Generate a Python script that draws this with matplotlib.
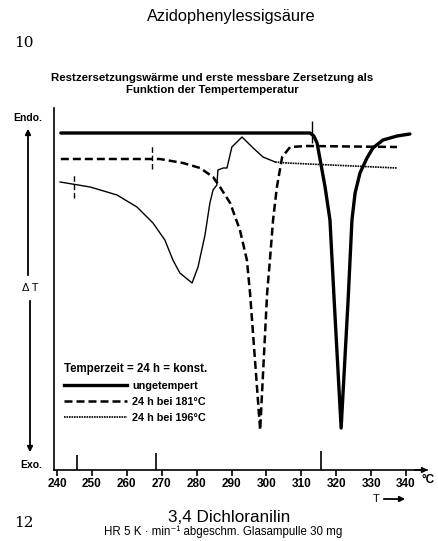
import matplotlib.pyplot as plt
from matplotlib.lines import Line2D

plt.rcParams['font.family'] = ['Liberation Sans', 'DejaVu Sans']

# temperatures in degC, signal in arbitrary units (height above the T axis)
t_unget = [241.1, 312.5, 313.6, 314.5, 315.4, 316.8, 318.2, 319.4, 321.4, 323.4,
           324.5, 325.4, 326.8, 328.8, 330.5, 333.4, 337.4, 341.1]
dt_unget = [337, 337, 334, 327, 310, 283, 250, 170, 42, 170,
            250, 277, 297, 312, 322, 330, 334, 336]

t_181 = [241.1, 267.2, 269.5, 276.1, 281.0, 284.7, 286.7, 289.6, 292.4, 294.4,
         295.3, 298.2, 300.2, 301.0, 301.9, 303.0, 304.5, 306.8, 311.6, 337.4]
dt_181 = [311, 311, 311, 307, 302, 293, 283, 267, 240, 210,
          177, 40, 177, 210, 250, 283, 313, 323, 324, 323]

t_196 = [240.9, 249.5, 257.2, 262.9, 267.5, 270.9, 273.2, 275.2, 278.7, 280.4,
         282.4, 283.8, 284.7, 285.8, 286.1, 287.6, 288.7, 290.1, 293.0, 296.2,
         299.0, 302.5, 305.9, 337.4]
dt_196 = [288, 283, 275, 263, 247, 230, 210, 197, 187, 203,
          235, 267, 280, 285, 300, 302, 302, 323, 333, 322,
          313, 308, 307, 302]

# onset markers on the curves and on the axis
mark_t = [244.9, 267.2, 313.1]
mark_lo = [272, 301, 327]
mark_hi = [297, 325, 349]
mark_ls = [(0, (4, 2)), (0, (4, 2)), 'solid']
spike_t = [245.7, 268.4, 315.6]
spike_h = [15, 17, 19]

x_ticks = list(range(240, 341, 10))

fig = plt.figure(figsize=(4.38, 5.41), dpi=100)
W, H = 438, 541


def px(x, y):
    return x / W, 1 - y / H


ax = fig.add_axes([54 / W, 71 / H, 373 / W, 362 / H])
ax.set_xlim(239.14, 346.0)
ax.set_ylim(0, 362)

ax.plot(t_unget, dt_unget, color='black', lw=2.4, solid_capstyle='round',
        solid_joinstyle='round')
ax.plot(t_181, dt_181, color='black', lw=1.8, linestyle=(0, (3.2, 1.6)))
n = 21
ax.plot(t_196[:n + 1], dt_196[:n + 1], color='black', lw=1.0)
ax.plot(t_196[n:], dt_196[n:], color='black', lw=1.2, linestyle=(0, (1, 0.5)))

for t, lo, hi, ls in zip(mark_t, mark_lo, mark_hi, mark_ls):
    ax.vlines(t, lo, hi, color='black', lw=1.0, linestyles=[ls])
ax.vlines(spike_t, 0, spike_h, color='black', lw=1.2)

for s in ['top', 'right']:
    ax.spines[s].set_visible(False)
ax.spines['left'].set_linewidth(1.2)
ax.spines['bottom'].set_linewidth(1.2)
ax.set_yticks([])
ax.set_xticks(x_ticks)
ax.set_xticklabels([str(v) for v in x_ticks], fontweight='bold')
ax.tick_params(axis='x', direction='out', length=4, width=1.2, labelsize=8.5, pad=2)
ax.annotate('', xy=(1.01, 0), xytext=(0.96, 0), xycoords='axes fraction',
            annotation_clip=False,
            arrowprops=dict(arrowstyle='-|>', color='black', lw=1.2, mutation_scale=8))

handles = [Line2D([], [], color='black', lw=2.4),
           Line2D([], [], color='black', lw=1.8, linestyle=(0, (3.2, 1.6))),
           Line2D([], [], color='black', lw=1.2, linestyle=(0, (1, 0.5)))]
labels = ['ungetempert', '24 h bei 181°C', '24 h bei 196°C']
ax.legend(handles, labels, title='Temperzeit = 24 h = konst.', loc='upper left',
          bbox_to_anchor=px(64, 363), bbox_transform=fig.transFigure,
          frameon=False, handlelength=5.8, handletextpad=0.5, labelspacing=0.55,
          borderpad=0, borderaxespad=0, alignment='left',
          prop=dict(size=7.8, weight='bold'),
          title_fontproperties=dict(size=8.3, weight='bold'))

# texts around the plot
fig.text(*px(231, 16), 'Azidophenylessigsäure', ha='center', va='center', fontsize=11.8)
fig.text(*px(14, 43), '10', ha='left', va='center', fontsize=11, family='DejaVu Serif')
fig.text(*px(212, 78), 'Restzersetzungswärme und erste messbare Zersetzung als',
         ha='center', va='center', fontsize=8.2, fontweight='bold')
fig.text(*px(212, 90), 'Funktion der Tempertemperatur',
         ha='center', va='center', fontsize=8.2, fontweight='bold')
fig.text(*px(13, 118), 'Endo.', ha='left', va='center', fontsize=7.5, fontweight='bold')
fig.text(*px(30, 288), 'Δ T', ha='center', va='center', fontsize=8)
fig.text(*px(20, 465), 'Exo.', ha='left', va='center', fontsize=7.5, fontweight='bold')
fig.text(*px(422, 480), '°C', ha='left', va='center', fontsize=8.5, fontweight='bold')
fig.text(*px(376, 499), 'T', ha='center', va='center', fontsize=8)

arrow = dict(arrowstyle='-|>', color='black', lw=1.3, mutation_scale=8)
ax.annotate('', xy=px(408, 499), xytext=px(381, 499), xycoords='figure fraction',
            annotation_clip=False, arrowprops=arrow)
ax.annotate('', xy=px(28, 126), xytext=px(28, 278), xycoords='figure fraction',
            annotation_clip=False, arrowprops=arrow)
ax.annotate('', xy=px(30, 455), xytext=px(30, 298), xycoords='figure fraction',
            annotation_clip=False, arrowprops=arrow)

fig.text(*px(229, 517), '3,4 Dichloranilin', ha='center', va='center', fontsize=12.3)
fig.text(*px(223, 532), 'HR 5 K · min⁻¹ abgeschm. Glasampulle 30 mg',
         ha='center', va='center', fontsize=8.3)
fig.text(*px(14, 523), '12', ha='left', va='center', fontsize=11, family='DejaVu Serif')

fig.savefig('out.png', dpi=100)
